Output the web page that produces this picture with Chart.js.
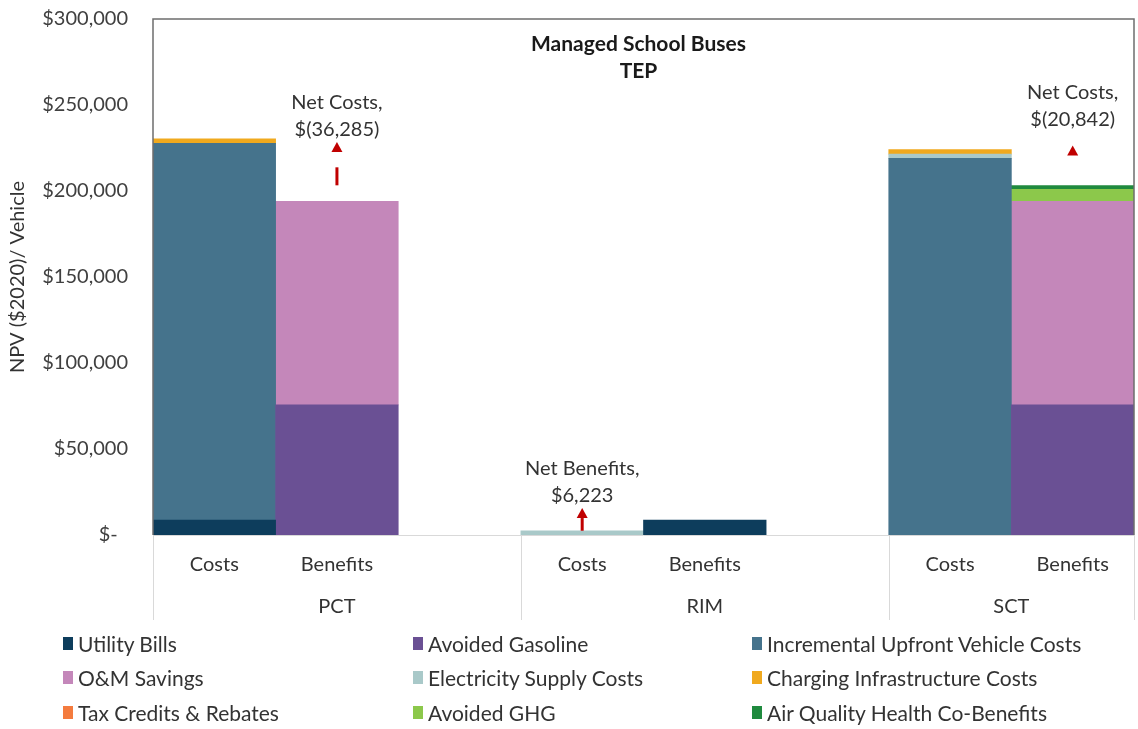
<!DOCTYPE html>
<html>
<head>
<meta charset="utf-8">
<script src="https://cdn.jsdelivr.net/npm/chart.js@4.4.1/dist/chart.umd.min.js"></script>
<style>
  body { margin: 0; background: #fff; }
  #wrap { position: relative; width: 1138px; height: 729px; }
  #legend { position: absolute; left: 0; top: 630px; width: 1138px; font-family: Lato, "Open Sans", sans-serif; font-size: 21px; color: #333; }
  .lg-item { position: absolute; display: flex; align-items: center; height: 26px; white-space: nowrap; }
  .lg-box { width: 10px; height: 13px; margin-right: 5px; }
</style>
</head>
<body>
<div id="wrap">
  <canvas id="c"></canvas>
  <div id="legend"></div>
</div>
<script>
// categories along the x axis, and the group each one belongs to
const categories = ["Costs", "Benefits", "", "Costs", "Benefits", "", "Costs", "Benefits"];
const groupLabels = ["PCT", "RIM", "SCT"];
const groupOf = [0, 0, 0, 1, 1, 1, 2, 2];

// stacked components ($/vehicle), one value per category
const utilityBills       = [8700, null, null, null, 8700, null, null, null];
const avoidedGasoline    = [null, 75700, null, null, null, null, null, 75700];
const incrementalUpfront = [219000, null, null, null, null, null, 219000, null];
const omSavings          = [null, 118300, null, null, null, null, null, 118300];
const electricitySupply  = [null, null, null, 2477, null, null, 2477, null];
const chargingInfra      = [2585, null, null, null, null, null, 2585, null];
const taxCredits         = [null, null, null, null, null, null, null, null];
const avoidedGHG         = [null, null, null, null, null, null, null, 7000];
const airQuality         = [null, null, null, null, null, null, null, 2220];

const yTicks = [0, 50000, 100000, 150000, 200000, 250000, 300000];

// net result notes (text)
const netNotes = [
  { at: 1, from: 1, to: 0, shaft: "dashed", lines: ["Net Costs,", "$(36,285)"], gap: 12, extra: -3 },
  { at: 3, from: 3, to: 4, shaft: "solid",  lines: ["Net Benefits,", "$6,223"], gap: 12, extra: 12 },
  { at: 7, from: 7, to: 6, shaft: "none",   lines: ["Net Costs,", "$(20,842)"], gap: 26, extra: 4 }
];

const series = [
  { label: "Utility Bills", data: utilityBills, color: "#0d3d5c" },
  { label: "Avoided Gasoline", data: avoidedGasoline, color: "#6a5094" },
  { label: "Incremental Upfront Vehicle Costs", data: incrementalUpfront, color: "#45738c" },
  { label: "O&M Savings", data: omSavings, color: "#c487ba" },
  { label: "Electricity Supply Costs", data: electricitySupply, color: "#a9c9c9" },
  { label: "Charging Infrastructure Costs", data: chargingInfra, color: "#f0a91e" },
  { label: "Tax Credits & Rebates", data: taxCredits, color: "#f47b3e" },
  { label: "Avoided GHG", data: avoidedGHG, color: "#8cc84b" },
  { label: "Air Quality Health Co-Benefits", data: airQuality, color: "#1f8a3e" }
];

const FONT = "Lato, 'Open Sans', sans-serif";
Chart.defaults.font.family = FONT;
Chart.defaults.color = "#404040";

function stackTotal(i) {
  return series.reduce((s, d) => s + (d.data[i] || 0), 0);
}

function drawArrow(ctx, x, yFrom, yTip, shaft) {
  const head = 10;
  ctx.save();
  ctx.strokeStyle = "#c00000";
  ctx.fillStyle = "#c00000";
  ctx.lineWidth = 3;
  const dir = yTip < yFrom ? -1 : 1;
  const baseY = yTip - dir * head;
  if (shaft !== "none") {
    if (shaft === "dashed") { ctx.setLineDash([18, 16]); ctx.lineDashOffset = 18; }
    ctx.beginPath();
    ctx.moveTo(x, yFrom);
    ctx.lineTo(x, baseY);
    ctx.stroke();
    ctx.setLineDash([]);
  }
  ctx.beginPath();
  ctx.moveTo(x, yTip);
  ctx.lineTo(x - 5.5, baseY);
  ctx.lineTo(x + 5.5, baseY);
  ctx.closePath();
  ctx.fill();
  ctx.restore();
}

const overlay = {
  id: "overlay",
  afterDatasetsDraw(chart) {
    const { ctx, chartArea: a, scales: { x, y } } = chart;
    const slot = x.getPixelForValue(1) - x.getPixelForValue(0);

    ctx.save();
    // plot frame
    ctx.strokeStyle = "#6e6e6e";
    ctx.lineWidth = 1.5;
    ctx.beginPath();
    ctx.moveTo(a.left, a.bottom);
    ctx.lineTo(a.left, a.top);
    ctx.lineTo(a.right, a.top);
    ctx.lineTo(a.right, a.bottom);
    ctx.stroke();

    // category axis: baseline, group dividers, group labels
    ctx.strokeStyle = "#d9d9d9";
    ctx.lineWidth = 1;
    ctx.beginPath();
    ctx.moveTo(a.left, a.bottom + 0.5);
    ctx.lineTo(a.right, a.bottom + 0.5);
    ctx.stroke();
    ctx.font = "20px " + FONT;
    ctx.fillStyle = "#333";
    ctx.textAlign = "center";
    ctx.textBaseline = "middle";
    groupLabels.forEach((g, gi) => {
      const idx = groupOf.map((v, i) => v === gi ? i : -1).filter(i => i >= 0);
      const l = x.getPixelForValue(idx[0]) - slot / 2;
      const r = x.getPixelForValue(idx[idx.length - 1]) + slot / 2;
      [l, r].forEach(px => {
        ctx.beginPath();
        ctx.moveTo(Math.round(px) + 0.5, a.bottom);
        ctx.lineTo(Math.round(px) + 0.5, a.bottom + 85);
        ctx.stroke();
      });
      ctx.fillText(g, (l + r) / 2, a.bottom + 72);
    });

    // net notes
    netNotes.forEach(n => {
      const px = x.getPixelForValue(n.at);
      const yFrom = y.getPixelForValue(stackTotal(n.from));
      const yTip = y.getPixelForValue(stackTotal(n.to)) - n.extra;
      drawArrow(ctx, px, yFrom, yTip, n.shaft);
      ctx.font = "20px " + FONT;
      ctx.fillStyle = "#333";
      ctx.textAlign = "center";
      ctx.textBaseline = "middle";
      ctx.fillText(n.lines[1], px, yTip - n.gap);
      ctx.fillText(n.lines[0], px, yTip - n.gap - 27);
    });

    // title
    const cx = (a.left + a.right) / 2 - 5;
    ctx.font = "bold 21px " + FONT;
    ctx.fillStyle = "#1a1a1a";
    ctx.textBaseline = "middle";
    ctx.fillText("Managed School Buses", cx, 44);
    ctx.fillText("TEP", cx, 71);
    ctx.restore();
  }
};

new Chart(document.getElementById("c"), {
  type: "bar",
  data: {
    labels: categories,
    datasets: series.map(s => ({
      label: s.label,
      data: s.data,
      backgroundColor: s.color,
      borderWidth: 0,
      barPercentage: 1,
      categoryPercentage: 1
    }))
  },
  options: {
    responsive: true,
    maintainAspectRatio: false,
    animation: false,
    layout: { padding: { top: 19, right: 4, left: 0, bottom: 0 } },
    plugins: { legend: { display: false }, tooltip: { enabled: false } },
    scales: {
      x: {
        stacked: true,
        grid: { display: false, drawTicks: false },
        border: { display: false },
        ticks: { padding: 18, color: "#333", font: { size: 20 }, maxRotation: 0, autoSkip: false },
        afterFit: s => { s.height = 194; s.paddingLeft = 0; s.paddingRight = 0; }
      },
      y: {
        stacked: true,
        min: 0,
        max: 300000,
        afterBuildTicks: s => { s.ticks = yTicks.map(v => ({ value: v })); },
        grid: { display: false, drawTicks: false },
        border: { display: false },
        ticks: {
          padding: 25,
          color: "#404040",
          font: { size: 20 },
          callback: v => v === 0 ? "$-  " : "$" + v.toLocaleString("en-US")
        },
        title: { display: true, text: "NPV ($2020)/ Vehicle", color: "#333", font: { size: 20 }, padding: { top: 6, bottom: 0 } },
        afterFit: s => { s.width = 153; s.paddingTop = 0; s.paddingBottom = 0; }
      }
    }
  },
  plugins: [overlay]
});

// legend in three fixed columns
const legendEl = document.getElementById("legend");
const colX = [63, 413, 752];
series.forEach((s, i) => {
  const item = document.createElement("div");
  item.className = "lg-item";
  item.style.left = colX[i % 3] + "px";
  item.style.top = (Math.floor(i / 3) * 34.5) + "px";
  item.innerHTML = `<span class="lg-box" style="background:${s.color}"></span><span></span>`;
  item.lastChild.textContent = s.label;
  legendEl.appendChild(item);
});
</script>
</body>
</html>
